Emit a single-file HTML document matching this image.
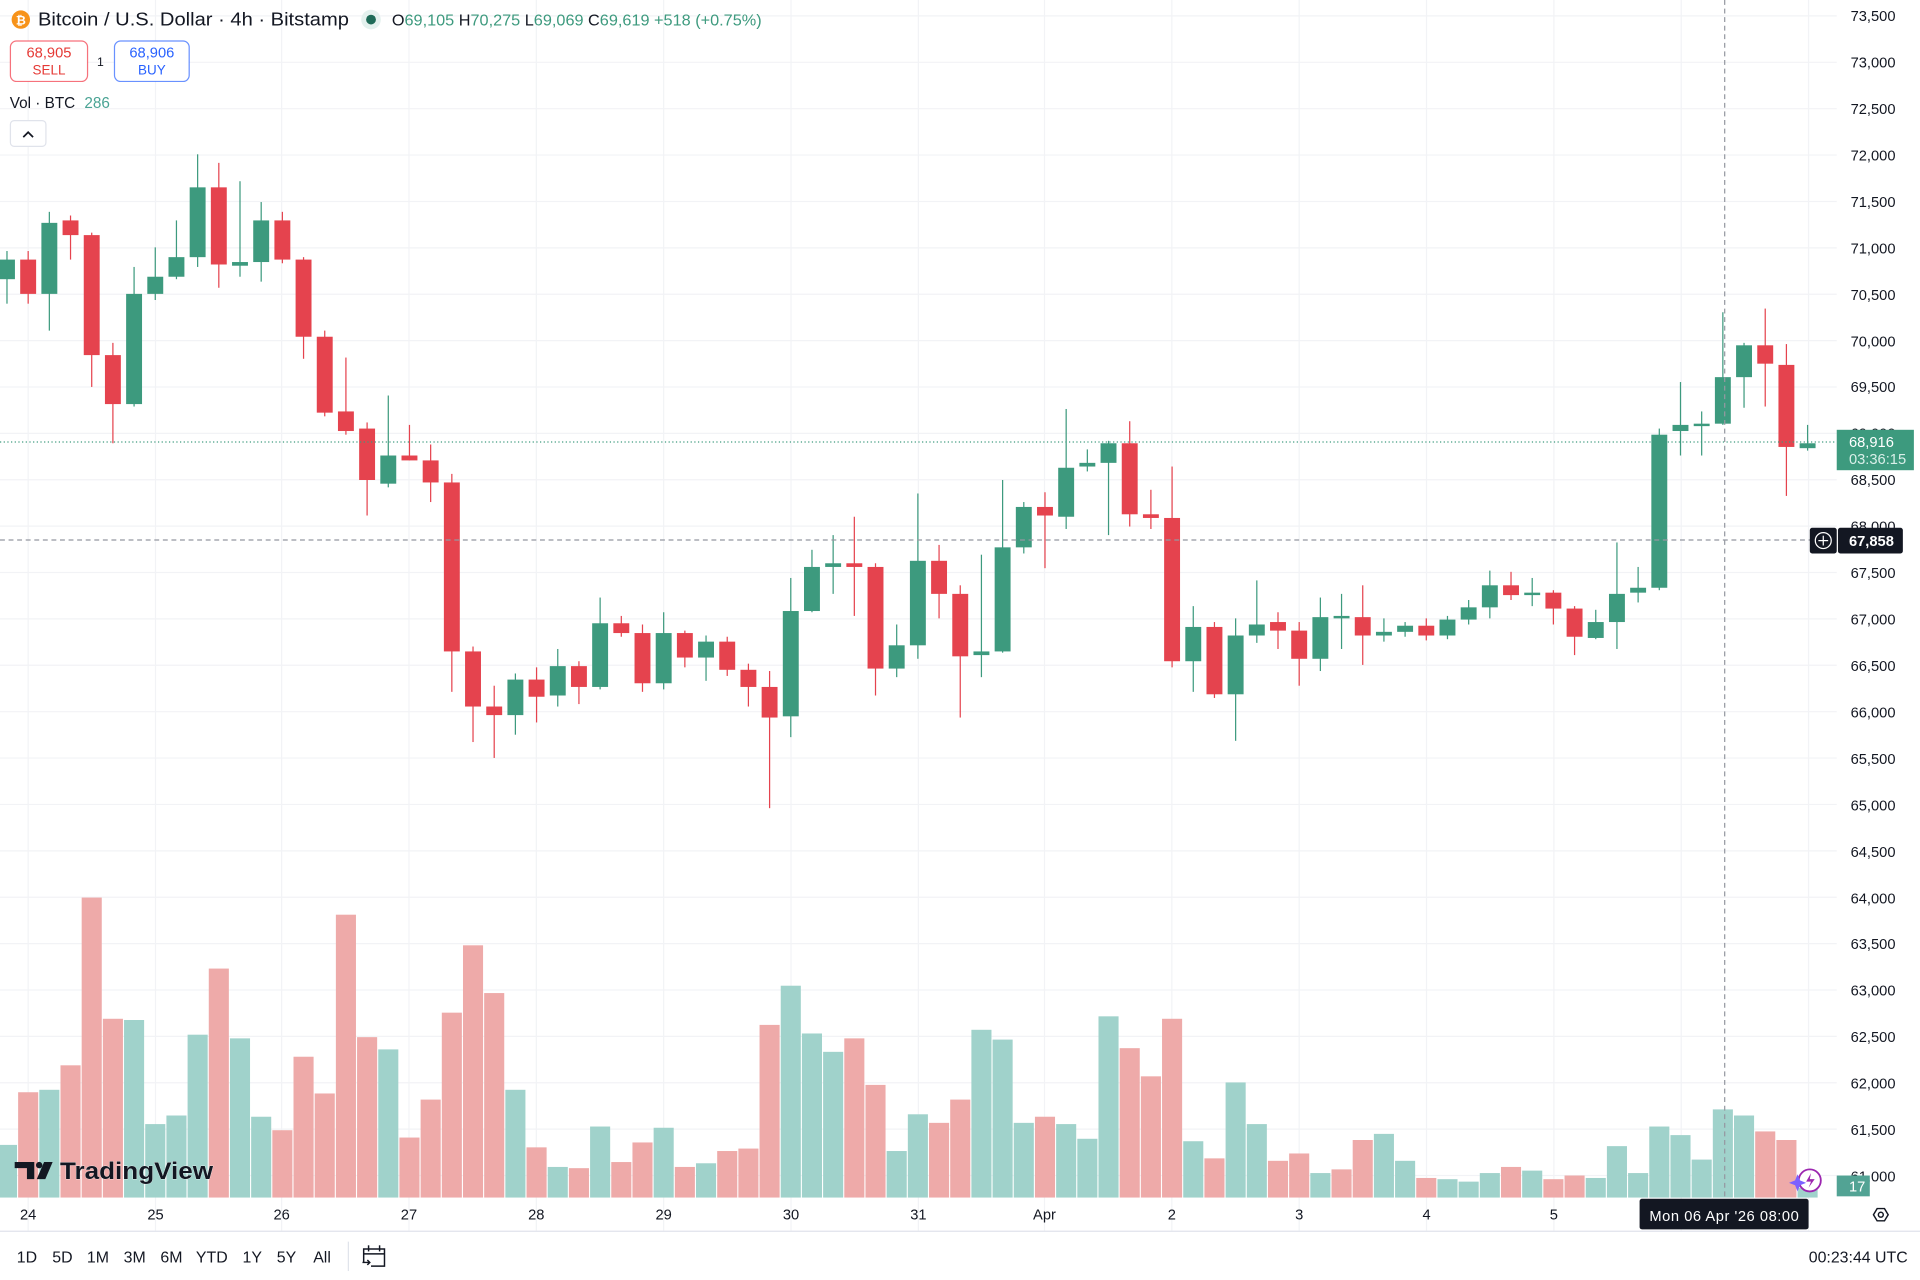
<!DOCTYPE html>
<html><head><meta charset="utf-8"><style>
html,body{margin:0;padding:0;background:#fff;width:1920px;height:1280px;overflow:hidden}
svg{display:block}
text{font-family:"Liberation Sans","DejaVu Sans",sans-serif}
</style></head><body>
<svg id="s" width="1920" height="1280" viewBox="0 0 1568 1045.33" xmlns="http://www.w3.org/2000/svg">
<rect width="1568" height="1046" fill="#fff"/>
<g id="grid" stroke="#f2f3f6" stroke-width="1"></g>
<g id="vol"></g>
<g id="cdl"></g>
<line x1="0" y1="361" x2="1500" y2="361" stroke="#3d9a7e" stroke-width="1" stroke-dasharray="1,2"/>
<line x1="0" y1="441" x2="1480" y2="441" stroke="#9598a1" stroke-width="1" stroke-dasharray="4,3"/>
<line x1="1408.5" y1="0" x2="1408.5" y2="978" stroke="#9598a1" stroke-width="1" stroke-dasharray="4,3"/>
<g font-size="12" fill="#131722" text-anchor="end">
<text x="1548" y="17">73,500</text><text x="1548" y="55">73,000</text><text x="1548" y="93">72,500</text>
<text x="1548" y="131">72,000</text><text x="1548" y="169">71,500</text><text x="1548" y="207">71,000</text>
<text x="1548" y="245">70,500</text><text x="1548" y="283">70,000</text><text x="1548" y="320">69,500</text>
<text x="1548" y="358">69,000</text><text x="1548" y="396">68,500</text><text x="1548" y="434">68,000</text>
<text x="1548" y="472">67,500</text><text x="1548" y="510">67,000</text><text x="1548" y="548">66,500</text>
<text x="1548" y="586">66,000</text><text x="1548" y="624">65,500</text><text x="1548" y="662">65,000</text>
<text x="1548" y="700">64,500</text><text x="1548" y="738">64,000</text><text x="1548" y="775">63,500</text>
<text x="1548" y="813">63,000</text><text x="1548" y="851">62,500</text><text x="1548" y="889">62,000</text>
<text x="1548" y="927">61,500</text><text x="1548" y="965">61,000</text>
</g>
<rect x="1500" y="351" width="63" height="33" fill="#3d9a7e"/>
<text x="1510" y="365" font-size="12" fill="#fff">68,916</text>
<text x="1510" y="379" font-size="12" fill="#d9efe9">03:36:15</text>
<rect x="1478" y="431" width="22" height="21" rx="2" fill="#131722"/>
<circle cx="1489" cy="441.5" r="6.5" fill="none" stroke="#fff" stroke-width="1"/>
<line x1="1485" y1="441.5" x2="1493" y2="441.5" stroke="#fff"/><line x1="1489" y1="437.5" x2="1489" y2="445.5" stroke="#fff"/>
<rect x="1501" y="431" width="53" height="21" rx="2" fill="#131722"/>
<text x="1510" y="446" font-size="12" fill="#fff" font-weight="bold">67,858</text>
<rect x="1500" y="960" width="27" height="17" fill="#52a394"/>
<text x="1510" y="973" font-size="12" fill="#fff">17</text>
<circle cx="1478" cy="964" r="9" fill="#fff" stroke="#9c27b0" stroke-width="1.5"/>
<path d="M1479 958 L1475 965 L1479 965 L1477 970 L1482 963 L1478 963Z" fill="#9c27b0"/>
<path d="M1468 959 L1470 964 L1475 966 L1470 968 L1468 973 L1466 968 L1461 966 L1466 964Z" fill="#7b61ff"/>
<line x1="0" y1="1005.5" x2="1568" y2="1005.5" stroke="#e0e3eb"/>
<g font-size="12" fill="#131722" text-anchor="middle">
<text x="23" y="996">24</text><text x="127" y="996">25</text><text x="230" y="996">26</text><text x="334" y="996">27</text>
<text x="438" y="996">28</text><text x="542" y="996">29</text><text x="646" y="996">30</text><text x="750" y="996">31</text>
<text x="853" y="996">Apr</text><text x="957" y="996">2</text><text x="1061" y="996">3</text><text x="1165" y="996">4</text>
<text x="1269" y="996">5</text>
</g>
<rect x="1339" y="979" width="138" height="25" rx="2" fill="#131722"/>
<text x="1347" y="997" font-size="12" fill="#fff" textLength="122" lengthAdjust="spacing">Mon 06 Apr '26   08:00</text>
<path d="M1530 992 L1533 987 L1539 987 L1542 992 L1539 997 L1533 997Z" fill="none" stroke="#131722" stroke-width="1.2"/>
<circle cx="1536" cy="992" r="2" fill="none" stroke="#131722" stroke-width="1.2"/>
<g font-size="13" fill="#131722" text-anchor="middle">
<text x="22" y="1031">1D</text><text x="51" y="1031">5D</text><text x="80" y="1031">1M</text><text x="110" y="1031">3M</text>
<text x="140" y="1031">6M</text><text x="173" y="1031">YTD</text><text x="206" y="1031">1Y</text><text x="234" y="1031">5Y</text>
<text x="263" y="1031">All</text>
</g>
<line x1="284.5" y1="1014" x2="284.5" y2="1038" stroke="#e0e3eb"/>
<g fill="none" stroke="#131722" stroke-width="1.2">
<path d="M297 1031 L297 1020 L314 1020 L314 1034 L303 1034"/><line x1="297" y1="1024" x2="314" y2="1024"/>
<line x1="301" y1="1017" x2="301" y2="1022"/><line x1="310" y1="1017" x2="310" y2="1022"/>
<path d="M296 1031 L302 1031 M300 1029 L302 1031 L300 1033"/>
</g>
<text x="1558" y="1031" font-size="13" fill="#131722" text-anchor="end">00:23:44 UTC</text>
<circle cx="17" cy="16" r="7.5" fill="#f7931a"/>
<text x="17" y="20" font-size="10" fill="#fff" text-anchor="middle" font-weight="bold">₿</text>
<text x="31" y="21" font-size="15" fill="#131722" textLength="254" lengthAdjust="spacingAndGlyphs">Bitcoin / U.S. Dollar · 4h · Bitstamp</text>
<circle cx="303" cy="16" r="8" fill="#e4f1ee"/><circle cx="303" cy="16" r="4" fill="#1f6b58"/>
<text x="320" y="21" font-size="12.5" textLength="302" lengthAdjust="spacingAndGlyphs"><tspan fill="#131722">O</tspan><tspan fill="#3d9a7e">69,105 </tspan><tspan fill="#131722">H</tspan><tspan fill="#3d9a7e">70,275 </tspan><tspan fill="#131722">L</tspan><tspan fill="#3d9a7e">69,069 </tspan><tspan fill="#131722">C</tspan><tspan fill="#3d9a7e">69,619 +518 (+0.75%)</tspan></text>
<rect x="8.5" y="33.5" width="63" height="33" rx="5" fill="#fff" stroke="#f23645" stroke-opacity="0.7"/>
<text x="40" y="47" font-size="12" fill="#e53935" text-anchor="middle">68,905</text>
<text x="40" y="61" font-size="11" fill="#e53935" text-anchor="middle">SELL</text>
<text x="82" y="54" font-size="10" fill="#131722" text-anchor="middle">1</text>
<rect x="93.5" y="33.5" width="61" height="33" rx="5" fill="#fff" stroke="#2962ff" stroke-opacity="0.7"/>
<text x="124" y="47" font-size="12" fill="#2962ff" text-anchor="middle">68,906</text>
<text x="124" y="61" font-size="11" fill="#2962ff" text-anchor="middle">BUY</text>
<text x="8" y="88" font-size="12.5" fill="#131722">Vol · BTC <tspan fill="#4aa394" dx="4">286</tspan></text>
<rect x="8.5" y="98.5" width="29" height="21" rx="3" fill="#fff" stroke="#e0e3eb"/>
<path d="M19 112 L23 108 L27 112" fill="none" stroke="#131722" stroke-width="1.4"/>
<g>
<path d="M12 949 L28 949 L28 963 L22 963 L22 954 L12 954Z" fill="#131722"/>
<circle cx="32" cy="951.5" r="2.6" fill="#131722"/>
<path d="M36 949 L43 949 L37 963 L30 963Z" fill="#131722"/>
<text x="49" y="963" font-size="20" font-weight="bold" fill="#131722" stroke="#fff" stroke-width="0.4" paint-order="stroke" textLength="125" lengthAdjust="spacingAndGlyphs">TradingView</text>
</g>
</svg>
<script>
var NS="http://www.w3.org/2000/svg";
function el(p,t,a){var e=document.createElementNS(NS,t);for(var k in a)e.setAttribute(k,a[k]);p.appendChild(e);return e;}
var g=document.getElementById('grid');
for(var i=0;i<26;i++){var y=13+37.88*i;el(g,'line',{x1:0,x2:1500,y1:y,y2:y});}
[23,127,230,334,438,542,646,750,853,957,1061,1165,1269,1373,1477].forEach(function(x){el(g,'line',{x1:x,x2:x,y1:0,y2:1005});});
var C=[[212,228,205,248,1],[212,240,205,248,0],[182,240,173,270,1],[180,192,176,212,0],[192,290,190,316,0],[290,330,280,362,0],[240,330,218,332,1],[226,240,202,245,1],[210,226,180,228,1],[153,210,126,218,1],[153,216,133,235,0],[214,217,148,226,1],[180,214,165,230,1],[180,212,173,215,0],[212,275,210,293,0],[275,337,270,340,0],[336,352,292,355,0],[350,392,345,421,0],[372,395,323,398,1],[372,376,347,376,0],[376,394,363,410,0],[394,532,387,565,0],[532,577,528,606,0],[577,584,560,619,0],[555,584,550,600,1],[555,569,545,590,0],[544,568,530,577,1],[544,561,540,575,0],[509,561,488,563,1],[509,517,503,520,0],[517,558,510,565,0],[517,558,500,563,1],[517,537,515,545,0],[524,537,519,556,1],[524,547,520,552,0],[547,561,542,577,0],[561,586,548,660,0],[499,585,472,602,1],[463,499,449,500,1],[460,463,437,485,1],[460,463,422,503,0],[463,546,460,568,0],[527,546,510,553,1],[458,527,403,538,1],[458,485,445,505,0],[485,536,478,586,0],[532,535,453,553,1],[447,532,392,533,1],[414,447,410,452,1],[414,421,402,464,0],[382,422,334,432,1],[378,381,367,385,1],[362,378,360,437,1],[362,420,344,430,0],[420,423,400,432,0],[423,540,381,545,0],[512,540,495,565,1],[512,567,508,570,0],[519,567,505,605,1],[510,519,474,525,1],[508,515,500,530,0],[515,538,508,560,0],[504,538,488,548,1],[503,505,485,530,1],[504,519,478,543,0],[516,519,505,524,1],[511,516,508,520,1],[511,519,505,523,0],[506,519,503,522,1],[496,506,490,510,1],[478,496,466,505,1],[478,486,467,490,0],[484,486,472,495,1],[484,497,482,510,0],[497,520,495,535,0],[508,521,498,522,1],[485,508,443,530,1],[480,484,463,492,1],[355,480,350,482,1],[347,352,312,372,1],[346,348,336,372,1],[308,346,255,347,1],[282,308,280,333,1],[282,297,252,332,0],[298,365,281,405,0],[362,366,347,368,1]];
var V=[[935,1],[892,0],[890,1],[870,0],[733,0],[832,0],[833,1],[918,1],[911,1],[845,1],[791,0],[848,1],[912,1],[923,0],[863,0],[893,0],[747,0],[847,0],[857,1],[929,0],[898,0],[827,0],[772,0],[811,0],[890,1],[937,0],[953,1],[954,0],[920,1],[949,0],[933,0],[921,1],[953,0],[950,1],[940,0],[938,0],[837,0],[805,1],[844,1],[859,1],[848,0],[886,0],[940,1],[910,1],[917,0],[898,0],[841,1],[849,1],[917,1],[912,0],[918,1],[930,1],[830,1],[856,0],[879,0],[832,0],[932,1],[946,0],[884,1],[918,1],[948,0],[942,0],[958,1],[955,0],[931,0],[926,1],[948,1],[962,0],[963,1],[965,1],[958,1],[953,0],[956,1],[963,0],[960,0],[962,1],[936,1],[958,1],[920,1],[927,1],[947,1],[906,1],[911,1],[924,0],[931,0],[970,1]];
var cg=document.getElementById('cdl'),vg=document.getElementById('vol');
var step=17.3;
for(var k=0;k<C.length;k++){
 var x=23+step*(k-1);var c=C[k];var col=c[4]?'#3d9a7e':'#e5434e';
 el(cg,'rect',{x:x-0.5,y:c[2],width:1,height:c[3]-c[2],fill:col});
 el(cg,'rect',{x:x-6.5,y:c[0],width:13,height:Math.max(2,c[1]-c[0]),fill:col});
 var v=V[k];
 el(vg,'rect',{x:x-8.2,y:v[0],width:16.4,height:978-v[0],fill:v[1]?'#a0d2cb':'#eeaaa9'});
}
</script>
</body></html>
